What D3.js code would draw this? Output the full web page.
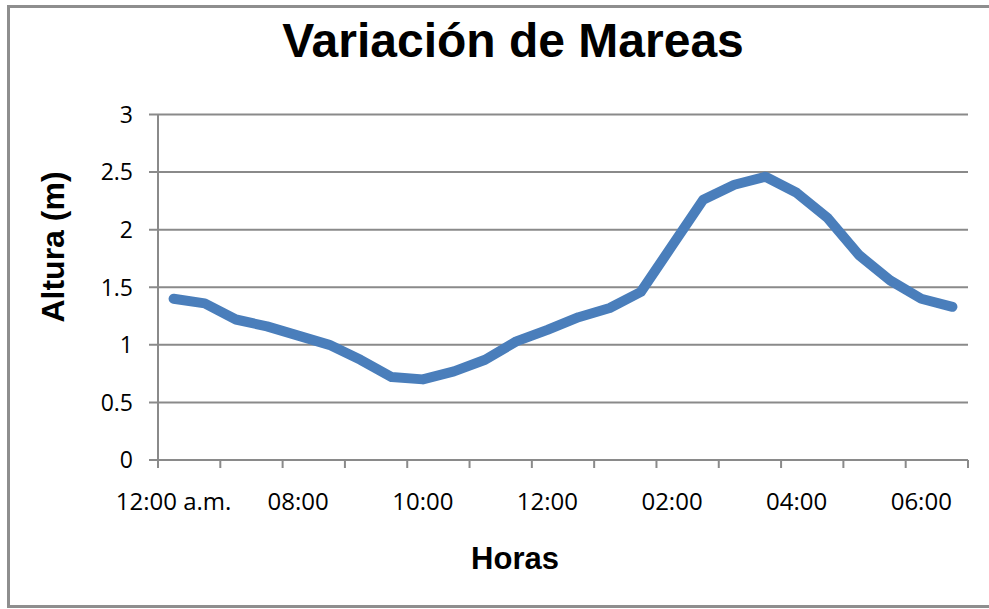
<!DOCTYPE html>
<html>
<head>
<meta charset="utf-8">
<script src="https://cdn.jsdelivr.net/npm/d3@7"></script>
<style>
  html, body { margin: 0; padding: 0; background: #fff; }
  svg { display: block; }
</style>
</head>
<body>
<div id="chart"></div>
<script>
// Categories (half-hour steps), shown labels every 4th
const horas = ['12:00 a.m.', '06:30', '07:00', '07:30', '08:00', '08:30', '09:00', '09:30',
  '10:00', '10:30', '11:00', '11:30', '12:00', '12:30', '01:00', '01:30',
  '02:00', '02:30', '03:00', '03:30', '04:00', '04:30', '05:00', '05:30',
  '06:00', '06:30 '];
const altura = [1.40, 1.36, 1.22, 1.16, 1.08, 1.00, 0.87, 0.72, 0.70, 0.77, 0.87, 1.03, 1.13,
  1.24, 1.32, 1.46, 1.86, 2.26, 2.39, 2.46, 2.32, 2.10, 1.78, 1.56, 1.40, 1.33];
const yTicks = [0, 0.5, 1, 1.5, 2, 2.5, 3];

const width = 989;
const height = 609;

const svg = d3.select('#chart')
  .append('svg')
  .attr('width', width)
  .attr('height', height);

// Outer frame (right edge falls outside the picture)
svg.append('path')
  .attr('d', 'M 998 6.5 H 8.5 V 606.5 H 998')
  .attr('fill', 'none')
  .attr('stroke', '#8e8e8e')
  .attr('stroke-width', 3);

// Scales
const xScale = d3.scaleBand()
  .domain(horas)
  .range([158, 968])
  .padding(0);

const yScale = d3.scaleLinear()
  .domain([0, 3])
  .range([460, 114.5]);

// Gridlines + y labels
svg.append('g')
  .selectAll('line')
  .data(yTicks)
  .enter()
  .append('line')
  .attr('x1', 149)
  .attr('x2', 968)
  .attr('y1', d => yScale(d))
  .attr('y2', d => yScale(d))
  .attr('stroke', '#8a8a8a')
  .attr('stroke-width', 2);

svg.append('g')
  .selectAll('text')
  .data(yTicks)
  .enter()
  .append('text')
  .attr('x', 133)
  .attr('y', d => yScale(d))
  .attr('dy', '0.36em')
  .attr('text-anchor', 'end')
  .style('font-family', '"Open Sans", sans-serif')
  .style('font-size', '23px')
  .text(d => d);

// Vertical axis line
svg.append('line')
  .attr('x1', 158).attr('x2', 158)
  .attr('y1', yScale(3)).attr('y2', 468)
  .attr('stroke', '#8a8a8a')
  .attr('stroke-width', 2);

// X tick marks every 2 categories (band boundaries)
const tickIdx = d3.range(0, horas.length + 1, 2);
svg.append('g')
  .selectAll('line')
  .data(tickIdx)
  .enter()
  .append('line')
  .attr('x1', i => i < horas.length ? xScale(horas[i]) : xScale.range()[1])
  .attr('x2', i => i < horas.length ? xScale(horas[i]) : xScale.range()[1])
  .attr('y1', 460)
  .attr('y2', 468)
  .attr('stroke', '#8a8a8a')
  .attr('stroke-width', 2);

// X labels every 4 categories, centred on the category
svg.append('g')
  .selectAll('text')
  .data(horas.filter((d, i) => i % 4 === 0))
  .enter()
  .append('text')
  .attr('x', d => xScale(d) + xScale.bandwidth() / 2)
  .attr('y', 510)
  .attr('text-anchor', 'middle')
  .style('font-family', '"Open Sans", sans-serif')
  .style('font-size', '24px')
  .text(d => d.trim());

// Line
const line = d3.line()
  .x((d, i) => xScale(horas[i]) + xScale.bandwidth() / 2)
  .y(d => yScale(d));

svg.append('path')
  .datum(altura)
  .attr('d', line)
  .attr('fill', 'none')
  .attr('stroke', '#4a7ebb')
  .attr('stroke-width', 10)
  .attr('stroke-linejoin', 'round')
  .attr('stroke-linecap', 'round');

// Titles
svg.append('text')
  .attr('x', 513)
  .attr('y', 57)
  .attr('text-anchor', 'middle')
  .style('font-family', '"Liberation Sans", Arial, sans-serif')
  .style('font-weight', 'bold')
  .style('font-size', '48px')
  .text('Variación de Mareas');

svg.append('text')
  .attr('x', 515)
  .attr('y', 569)
  .attr('text-anchor', 'middle')
  .style('font-family', '"Liberation Sans", Arial, sans-serif')
  .style('font-weight', 'bold')
  .style('font-size', '31px')
  .text('Horas');

svg.append('text')
  .attr('transform', 'translate(64, 247) rotate(-90)')
  .attr('text-anchor', 'middle')
  .style('font-family', '"Liberation Sans", Arial, sans-serif')
  .style('font-weight', 'bold')
  .style('font-size', '32px')
  .text('Altura (m)');
</script>
</body>
</html>
